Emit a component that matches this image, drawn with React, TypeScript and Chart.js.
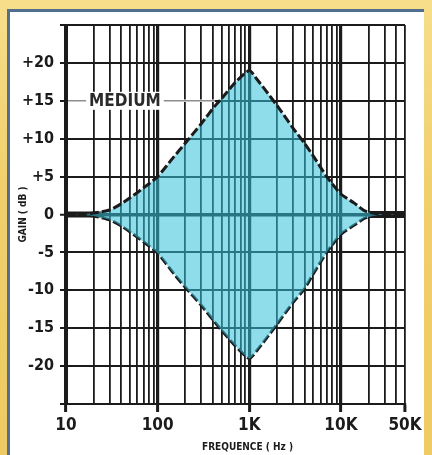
import React, { useEffect, useRef } from "react";
import { Chart, registerables } from "chart.js";

Chart.register(...registerables);

// ---- data ----
const FREQ_UPPER = [10, 15, 20, 30, 40, 50, 70, 100, 150, 200, 300, 420, 500, 700, 1000, 1200, 1500, 2000, 3000, 4000, 5000, 7000, 10000, 14000, 18000, 25000, 50000];
const GAIN_UPPER = [0, 0.05, 0.2, 0.6, 1.4, 2.2, 3.5, 5.0, 7.6, 9.4, 12.0, 14.3, 15.3, 17.4, 19.0, 17.9, 16.4, 14.4, 11.4, 9.4, 7.7, 5.0, 2.7, 1.5, 0.5, 0.1, 0];
const FREQ_LOWER = [10, 15, 20, 30, 40, 50, 70, 100, 150, 200, 300, 420, 500, 700, 1000, 1200, 1500, 2000, 3000, 4000, 5000, 7000, 10000, 14000, 18000, 25000, 50000];
const GAIN_LOWER = [0, -0.05, -0.2, -0.7, -1.5, -2.3, -3.6, -5.1, -7.8, -9.6, -12.0, -14.2, -15.3, -17.3, -19.0, -18.0, -16.5, -14.5, -11.6, -9.8, -7.8, -5.0, -2.6, -1.4, -0.5, -0.1, 0];
const FLAT_LEFT_FREQ = [10, 26];
const FLAT_RIGHT_FREQ = [20000, 50000];
const FLAT_GAIN = [0, 0];

const X_GRID = [10, 20, 30, 40, 50, 60, 70, 80, 90, 100, 200, 300, 400, 500, 600, 700, 800, 900, 1000, 2000, 3000, 4000, 5000, 6000, 7000, 8000, 9000, 10000, 20000, 30000, 40000, 50000];
const X_MAJOR = [10, 100, 1000, 10000, 50000];
const X_LABELS = ["10", "100", "1K", "10K", "50K"];
const Y_MIN = -25;
const Y_MAX = 25;
const Y_STEP = 5;

const X_TITLE = "FREQUENCE ( Hz )";
const Y_TITLE = "GAIN ( dB )";
const MEDIUM_TEXT = "MEDIUM";
const MEDIUM_X = 44;
const MEDIUM_Y = 15;
const LEADER_END = 420;

const FONT = "'DejaVu Sans Condensed', 'Liberation Sans', sans-serif";
const INK = "#1b1b1b";

const toPts = (xs: number[], ys: number[]) => xs.map((x, i) => ({ x, y: ys[i] }));

const mediumLabel = {
  id: "mediumLabel",
  beforeDatasetsDraw(chart: any) {
    const { ctx, scales } = chart;
    const xs = scales.x;
    const ys = scales.y;
    const yy = ys.getPixelForValue(MEDIUM_Y);
    const x0 = xs.getPixelForValue(X_GRID[0]) + 2;
    const x1 = xs.getPixelForValue(LEADER_END);
    ctx.save();
    ctx.strokeStyle = "#ffffff";
    ctx.lineWidth = 2.5;
    ctx.beginPath();
    ctx.moveTo(x0, yy);
    ctx.lineTo(x1, yy);
    ctx.stroke();
    ctx.strokeStyle = "#8e8e8e";
    ctx.lineWidth = 1.6;
    ctx.beginPath();
    ctx.moveTo(x0, yy);
    ctx.lineTo(x1, yy);
    ctx.stroke();
    ctx.font = `bold 17px ${FONT}`;
    const cx = xs.getPixelForValue(MEDIUM_X);
    const w = ctx.measureText(MEDIUM_TEXT).width;
    ctx.fillStyle = "#ffffff";
    ctx.fillRect(cx - w / 2 - 3, yy - 9, w + 6, 18);
    ctx.fillStyle = "#2a2a2a";
    ctx.textAlign = "center";
    ctx.textBaseline = "middle";
    ctx.fillText(MEDIUM_TEXT, cx, yy + 1);
    ctx.restore();
  },
  afterDraw(chart: any) {
    const { ctx, chartArea } = chart;
    ctx.save();
    ctx.font = `bold 10px ${FONT}`;
    ctx.fillStyle = INK;
    ctx.textAlign = "center";
    ctx.textBaseline = "middle";
    ctx.fillText(X_TITLE, (chartArea.left + chartArea.right) / 2 + 12, chartArea.bottom + 43);
    ctx.restore();
  },
};

export default function App() {
  const ref = useRef<HTMLCanvasElement | null>(null);

  useEffect(() => {
    if (!ref.current) return;
    const curve = {
      borderColor: INK,
      borderWidth: 3,
      borderDash: [9, 3],
      pointRadius: 0,
      tension: 0.2,
    };
    const chart = new Chart(ref.current, {
      type: "line",
      data: {
        datasets: [
          {
            ...curve,
            data: toPts(FREQ_UPPER, GAIN_UPPER),
            fill: "+1",
            backgroundColor: "rgba(51,191,217,0.55)",
          },
          {
            ...curve,
            data: toPts(FREQ_LOWER, GAIN_LOWER),
            fill: false,
          },
          {
            data: toPts(FLAT_LEFT_FREQ, FLAT_GAIN),
            borderColor: INK,
            borderWidth: 6,
            pointRadius: 0,
            fill: false,
          },
          {
            data: toPts(FLAT_RIGHT_FREQ, FLAT_GAIN),
            borderColor: INK,
            borderWidth: 7,
            pointRadius: 0,
            fill: false,
          },
        ],
      },
      options: {
        responsive: false,
        animation: false,
        layout: { padding: { left: 0, right: 27, top: 25, bottom: 0 } },
        plugins: { legend: { display: false }, tooltip: { enabled: false } },
        scales: {
          x: {
            type: "logarithmic",
            min: 10,
            max: 50000,
            afterBuildTicks: (scale: any) => {
              scale.ticks = X_GRID.map((v) => ({ value: v }));
            },
            afterFit: (scale: any) => {
              scale.height = 51;
            },
            ticks: {
              autoSkip: false,
              maxRotation: 0,
              padding: 3,
              color: INK,
              font: { family: FONT, size: 17, weight: "bold" },
              callback: (v: any) => {
                const i = X_MAJOR.indexOf(Number(v));
                return i >= 0 ? X_LABELS[i] : "";
              },
            },
            grid: {
              color: INK,
              lineWidth: (c: any) => (X_MAJOR.includes(c.tick?.value) && c.tick?.value !== 50000 ? 3.2 : 1.8),
              tickLength: 8,
              tickColor: (c: any) => (X_MAJOR.includes(c.tick?.value) ? INK : "rgba(0,0,0,0)"),
              tickWidth: 3,
            },
            border: { display: true, color: INK, width: 2 },
            title: { display: false },
          },
          y: {
            min: Y_MIN,
            max: Y_MAX,
            afterFit: (scale: any) => {
              scale.width = 66;
            },
            ticks: {
              stepSize: Y_STEP,
              padding: 6,
              color: INK,
              font: { family: FONT, size: 16, weight: "bold" },
              callback: (v: any) => {
                const n = Number(v);
                if (n === Y_MIN || n === Y_MAX) return "";
                return n > 0 ? `+${n}` : `${n}`;
              },
            },
            grid: {
              color: INK,
              lineWidth: (c: any) => (c.tick?.value === 0 ? 3.5 : 2),
              tickLength: 6,
              tickWidth: 2,
            },
            border: { display: true, color: INK, width: 3 },
            title: {
              display: true,
              text: Y_TITLE,
              color: INK,
              font: { family: FONT, size: 10, weight: "bold" },
              padding: { top: 17, bottom: 0 },
            },
          },
        },
      },
      plugins: [mediumLabel],
    });
    return () => chart.destroy();
  }, []);

  return (
    <div
      style={{
        position: "absolute",
        left: 0,
        top: 0,
        width: 432,
        height: 455,
        overflow: "hidden",
        background: "linear-gradient(to bottom, #f7de8a 0%, #f1cf6c 40%, #efca62 100%)",
      }}
    >
      <div
        style={{
          position: "absolute",
          left: 7,
          top: 9,
          width: 414,
          height: 460,
          background: "#ffffff",
          borderLeft: "3px solid #52708e",
          borderTop: "3px solid #52708e",
        }}
      />
      <canvas
        ref={ref}
        width={432}
        height={455}
        style={{ position: "absolute", left: 0, top: 0, width: 432, height: 455 }}
      />
    </div>
  );
}
